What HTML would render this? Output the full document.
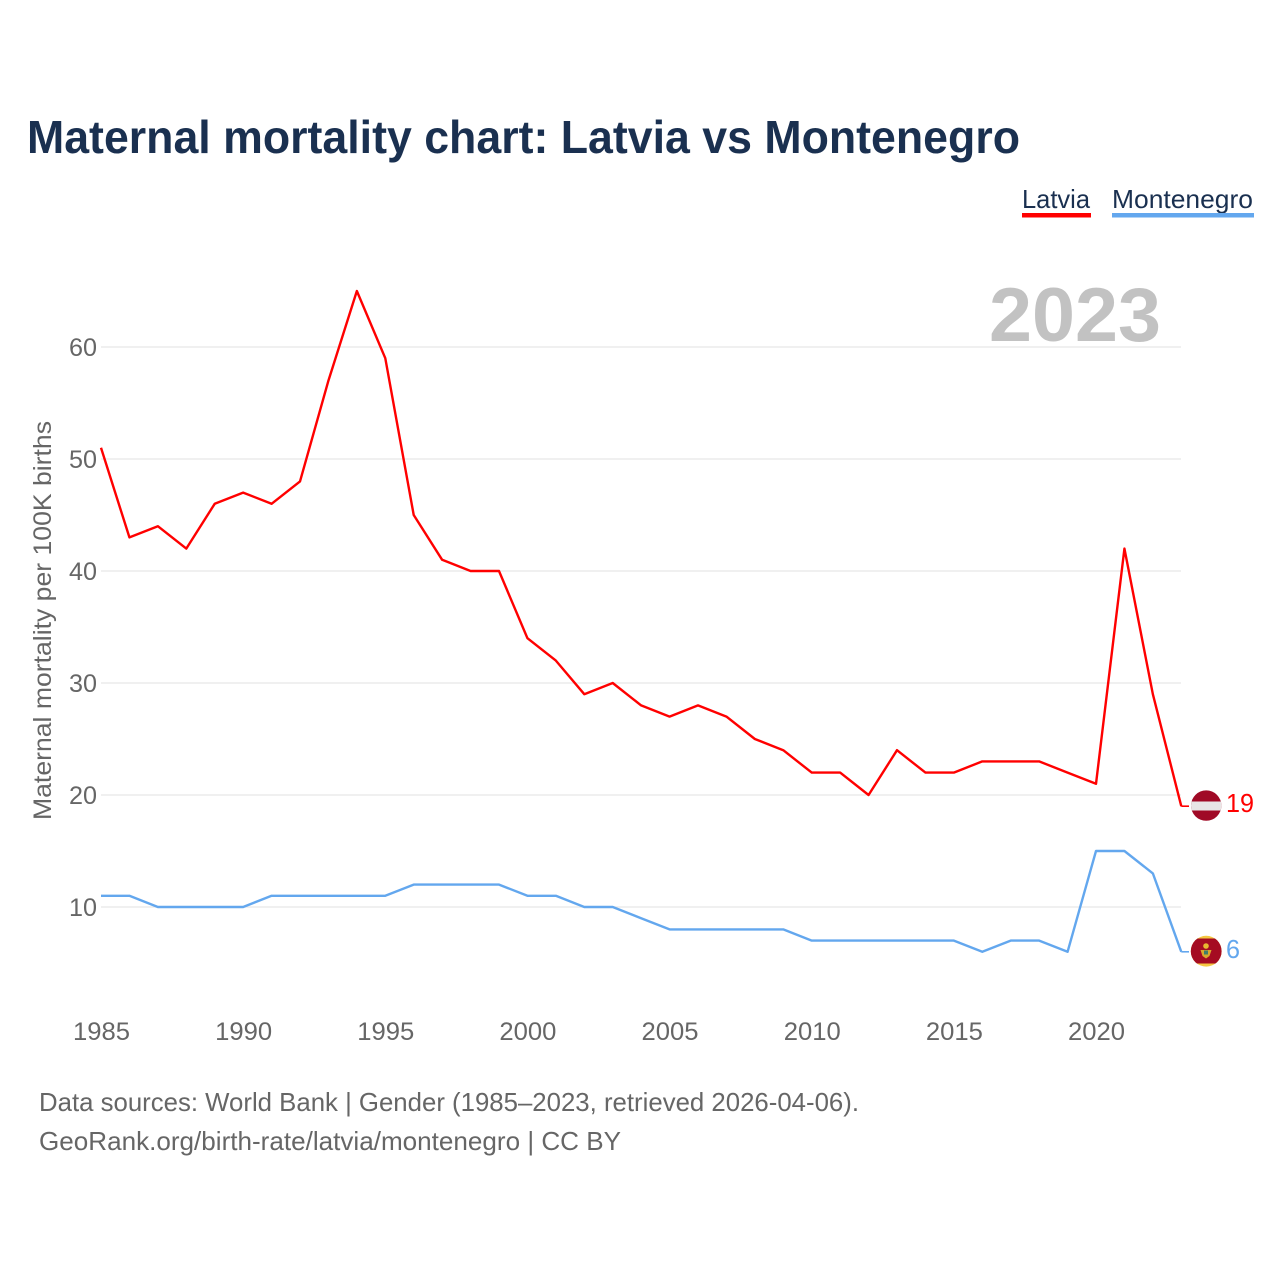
<!DOCTYPE html>
<html lang="en">
<head>
<meta charset="utf-8">
<title>Maternal mortality chart: Latvia vs Montenegro</title>
<style>
  html, body { margin: 0; padding: 0; background: #fff; }
  svg { display: block; font-family: "Liberation Sans", sans-serif; }
</style>
</head>
<body>
<svg id="chart" xmlns="http://www.w3.org/2000/svg" width="1280" height="1280" viewBox="0 0 1280 1280">
  <rect x="0" y="0" width="1280" height="1280" fill="#ffffff"/>
  <text x="27" y="153" font-size="46" font-weight="700" fill="#1a3050" textLength="993" lengthAdjust="spacingAndGlyphs">Maternal mortality chart: Latvia vs Montenegro</text>

  <g>
    <g>
      <text x="1022" y="208" font-size="26" fill="#1a3050" textLength="68" lengthAdjust="spacingAndGlyphs">Latvia</text>
      <rect x="1022" y="213" width="69" height="4.5" fill="#ff0000"/>
    </g>
    <g>
      <text x="1112" y="208" font-size="26" fill="#1a3050" textLength="141" lengthAdjust="spacingAndGlyphs">Montenegro</text>
      <rect x="1112" y="213" width="142" height="4.5" fill="#63a7ee"/>
    </g>
  </g>

  <g id="grid"></g>
  <text x="989" y="341" font-size="76" font-weight="700" fill="#c2c2c2" textLength="172" lengthAdjust="spacingAndGlyphs">2023</text>
  <g id="yticks"></g>
  <g id="xticks"></g>
  <text transform="translate(51 820) rotate(-90)" x="0" y="0" font-size="25" fill="#666666" textLength="399" lengthAdjust="spacingAndGlyphs">Maternal mortality per 100K births</text>
  <g id="series"></g>

  <defs>
    <clipPath id="flag-lv-clip"><circle cx="1206.2" cy="805.6" r="15.2"/></clipPath>
    <clipPath id="flag-me-clip"><circle cx="1206.2" cy="951.2" r="15.4"/></clipPath>
  </defs>
  <g id="flag-latvia" clip-path="url(#flag-lv-clip)">
    <rect x="1190" y="790" width="32" height="32" fill="#a00a26"/>
    <rect x="1190" y="801.5" width="32" height="9" fill="#e8e6e6"/>
  </g>
  <g id="flag-montenegro" clip-path="url(#flag-me-clip)">
    <rect x="1190" y="935" width="32" height="33" fill="#f5c842"/>
    <rect x="1190" y="938.5" width="32" height="25" fill="#a50c22"/>
    <circle cx="1206" cy="946" r="2.8" fill="#e8b730"/>
    <path d="M1200.5 950 L1211.5 950 L1209.5 956 L1206 958.5 L1202.5 956 Z" fill="#d9a92c"/>
    <rect x="1204" y="950.5" width="4" height="4" fill="#3f7f6a"/>
  </g>
  <text id="end-label-latvia" x="1226" y="812" font-size="26" fill="#ff0000" textLength="28" lengthAdjust="spacingAndGlyphs"></text>
  <text id="end-label-montenegro" x="1226" y="958" font-size="26" fill="#63a7ee" textLength="14" lengthAdjust="spacingAndGlyphs"></text>

  <g>
    <text x="39" y="1111" font-size="26" fill="#666666" textLength="820" lengthAdjust="spacingAndGlyphs">Data sources: World Bank | Gender (1985–2023, retrieved 2026-04-06).</text>
    <text x="39" y="1150" font-size="26" fill="#666666" textLength="582" lengthAdjust="spacingAndGlyphs">GeoRank.org/birth-rate/latvia/montenegro | CC BY</text>
  </g>
</svg>
<script>
const years = [1985,1986,1987,1988,1989,1990,1991,1992,1993,1994,1995,1996,1997,1998,1999,2000,2001,2002,2003,2004,2005,2006,2007,2008,2009,2010,2011,2012,2013,2014,2015,2016,2017,2018,2019,2020,2021,2022,2023];
const latvia = [51,43,44,42,46,47,46,48,57,65,59,45,41,40,40,34,32,29,30,28,27,28,27,25,24,22,22,20,24,22,22,23,23,23,22,21,42,29,19];
const montenegro = [11,11,10,10,10,10,11,11,11,11,11,12,12,12,12,11,11,10,10,9,8,8,8,8,8,7,7,7,7,7,7,6,7,7,6,15,15,13,6];
const yTickValues = [10,20,30,40,50,60];
const xTickValues = [1985,1990,1995,2000,2005,2010,2015,2020];

const NS = 'http://www.w3.org/2000/svg';
function xScale(year) { return 101 + (year - 1985) * (1096 - 101) / 35; }
function yScale(v) { return 1019 - v * 11.2; }
function make(tag, attrs, parent) {
  const el = document.createElementNS(NS, tag);
  for (const k in attrs) el.setAttribute(k, attrs[k]);
  parent.appendChild(el);
  return el;
}

const grid = document.getElementById('grid');
const yticks = document.getElementById('yticks');
const xticks = document.getElementById('xticks');
const seriesGroup = document.getElementById('series');

yTickValues.forEach(function (v) {
  const line = make('line', { x1: 101, x2: 1181, y1: yScale(v), y2: yScale(v), stroke: '#e8e8e8', 'stroke-width': 1.3 }, grid);
  
  
  const label = make('text', { x: 97, y: yScale(v) + 9, 'text-anchor': 'end', 'font-size': 25, fill: '#666666', textLength: 28, lengthAdjust: 'spacingAndGlyphs' }, yticks);
  label.textContent = String(v);
  
  
});

xTickValues.forEach(function (year) {
  const label = make('text', { x: xScale(year) + 0.5, y: 1040, 'text-anchor': 'middle', 'font-size': 25, fill: '#666666', textLength: 57, lengthAdjust: 'spacingAndGlyphs' }, xticks);
  label.textContent = String(year);
  
  
});

function drawSeries(values, color, name) {
  const pts = values.map(function (v, i) { return xScale(years[i]) + ',' + yScale(v); });
  const lastY = yScale(values[values.length - 1]);
  const line = make('polyline', { points: pts.join(' '), fill: 'none', stroke: color, 'stroke-width': 2.4, 'stroke-linejoin': 'round' }, seriesGroup);
  
  
  const lead = make('line', { x1: xScale(years[years.length - 1]), x2: 1189, y1: lastY, y2: lastY, stroke: color, 'stroke-width': 1.6 }, seriesGroup);
  
  
}
drawSeries(latvia, '#ff0000', 'latvia');
drawSeries(montenegro, '#63a7ee', 'montenegro');

document.getElementById('end-label-latvia').textContent = String(latvia[latvia.length - 1]);
document.getElementById('end-label-montenegro').textContent = String(montenegro[montenegro.length - 1]);
</script>
</body>
</html>
